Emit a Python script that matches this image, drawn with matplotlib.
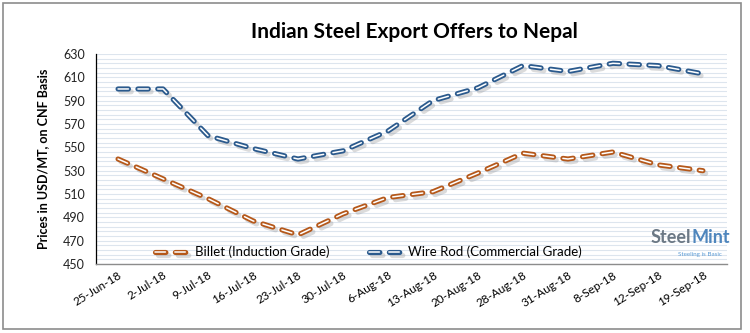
import matplotlib
matplotlib.use("Agg")
import matplotlib.pyplot as plt
import matplotlib.patheffects as pe
from matplotlib.patches import Rectangle
from matplotlib.legend_handler import HandlerTuple
import numpy as np

plt.rcParams['font.family'] = ['Lato', 'DejaVu Sans']
plt.rcParams['lines.scale_dashes'] = False

# data
dates = ["25-Jun-18", "2-Jul-18", "9-Jul-18", "16-Jul-18", "23-Jul-18", "30-Jul-18", "6-Aug-18",
         "13-Aug-18", "20-Aug-18", "28-Aug-18", "31-Aug-18", "8-Sep-18", "12-Sep-18", "19-Sep-18"]
billet = [540, 523, 506, 487, 475, 493, 507, 512, 528, 545, 540, 546, 535, 530]
wire_rod = [600, 600, 560, 549, 540, 547, 564, 590, 601, 620, 615, 622, 620, 613]
y_ticks = list(range(450, 631, 20))

blue = "#2b5a8d"
orange = "#b5581a"

fig = plt.figure(figsize=(7.5, 3.33), dpi=100)
ax = fig.add_axes([0.128, 0.207, 0.841, 0.631])

# background stripes like the excel pattern
for yy in np.arange(450, 631, 4):
    ax.axhline(yy, color="#dde5ee", lw=0.8, zorder=0)

x = np.arange(len(dates))
dash = (7.5, 6.8)

def excel_line(yvals, color):
    # coloured outline dash with white inside + soft shadow
    outer, = ax.plot(x, yvals, color=color, lw=3.7, dashes=dash, dash_capstyle="round")
    outer.set_path_effects([pe.SimpleLineShadow(offset=(2, -2), shadow_color="#888888", alpha=0.3),
                            pe.Normal()])
    inner, = ax.plot(x, yvals, color="white", lw=1.1, dashes=dash, dash_capstyle="round")
    return (outer, inner)

h1 = excel_line(billet, orange)
h2 = excel_line(wire_rod, blue)

ax.set_xlim(-0.49, 13.53)
ax.set_ylim(450, 630)
ax.set_yticks(y_ticks)
ax.set_xticks(x)
ax.set_xticklabels(dates, rotation=32, ha="right", rotation_mode="anchor", fontsize=8.5)
ax.tick_params(axis="y", length=0, labelsize=9, pad=8, labelcolor="#222222")
ax.tick_params(axis="x", length=0, pad=4)

for s in ["top", "right"]:
    ax.spines[s].set_visible(False)
ax.spines["left"].set_color("black")
ax.spines["left"].set_linewidth(0.9)
ax.spines["bottom"].set_color("#8c8c8c")
ax.spines["bottom"].set_linewidth(1.0)

ax.set_ylabel("Prices in USD/MT, on CNF Basis", fontsize=9, fontweight="bold", labelpad=10)

ax.legend([h1, h2], ["Billet (Induction Grade)", "Wire Rod (Commercial Grade)"],
          handler_map={tuple: HandlerTuple(ndivide=1, pad=0)},
          loc="lower left", bbox_to_anchor=(0.075, -0.03), ncol=2, frameon=False,
          fontsize=9.5, handlelength=2.4, columnspacing=3.0, handletextpad=0.6)

fig.text(0.553, 0.905, "Indian Steel Export Offers to Nepal", ha="center", va="center",
         fontsize=15, fontweight="bold")

# SteelMint logo
t1 = fig.text(0.868, 0.262, "Steel", ha="left", va="bottom", fontsize=13, fontweight="bold", color="#6b7885")
ax.annotate("Mint", xy=(1, 0), xycoords=t1, ha="left", va="bottom", fontsize=13,
            fontweight="bold", color="#4f86bd")
fig.text(0.963, 0.228, "Steeling is Basic", ha="right", va="bottom", fontsize=4.5, color="#5b9bd5")

# outer border
fig.patches.append(Rectangle((0.004, 0.012), 0.984, 0.978, transform=fig.transFigure,
                             fill=False, edgecolor="#8c8c8c", lw=1.2))

fig.savefig("out.png", dpi=100)
